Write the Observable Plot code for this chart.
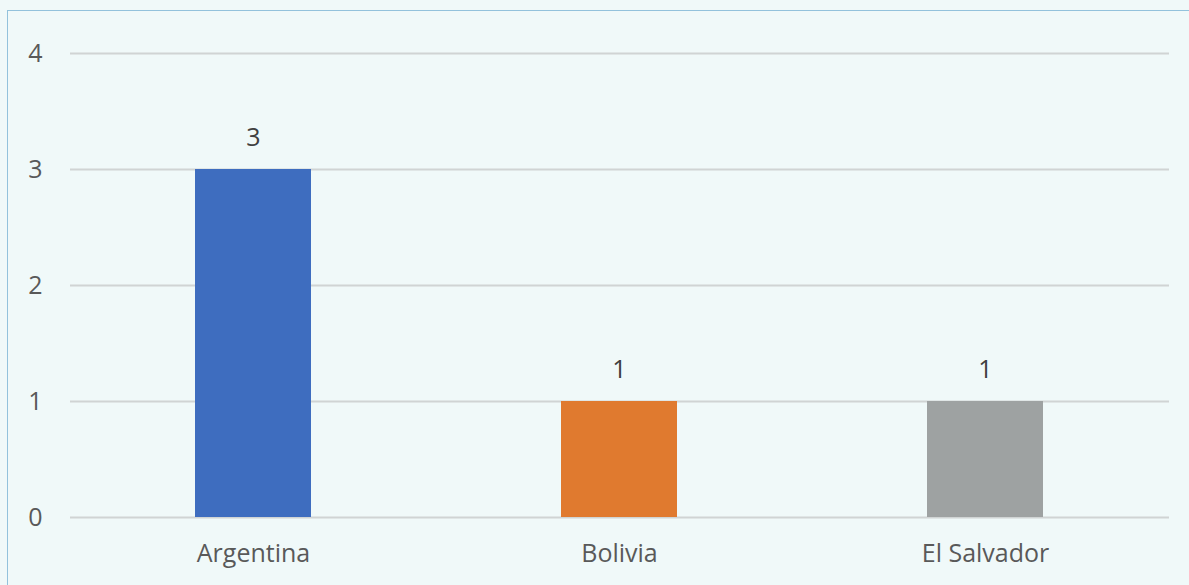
<!DOCTYPE html>
<html>
<head>
<meta charset="utf-8">
<script src="https://cdn.jsdelivr.net/npm/d3@7"></script>
<script src="https://cdn.jsdelivr.net/npm/@observablehq/plot@0.6"></script>
<style>
  html, body { margin: 0; padding: 0; background: #f0f9f9; }
  #wrap { position: relative; width: 1189px; height: 585px; overflow: hidden; background: #f0f9f9; }
  #frame { position: absolute; left: 7px; top: 10px; width: 1200px; height: 600px;
           border-left: 1.5px solid #93c2dc; border-top: 1.5px solid #93c2dc; pointer-events: none; }
</style>
</head>
<body>
<div id="wrap"><div id="frame"></div></div>
<script>
const categories = ["Argentina", "Bolivia", "El Salvador"];
const values = [3, 1, 1];
const colors = ["#3e6dbf", "#e07a2f", "#9ea2a2"];
const yTicks = [0, 1, 2, 3, 4];

const data = categories.map((c, i) => ({category: c, value: values[i], color: colors[i]}));
const pad = 0.683;
const FS = 25;

const chart = Plot.plot({
  width: 1189,
  height: 585,
  marginLeft: 70,
  marginRight: 20,
  marginTop: 53,
  marginBottom: 68,
  style: {background: "transparent", fontFamily: "'Open Sans', sans-serif", fontSize: FS + "px", color: "#595959"},
  x: {domain: categories, paddingInner: pad, paddingOuter: pad / 2, label: null},
  y: {domain: [0, 4], label: null},
  marks: [
    Plot.ruleY(yTicks, {stroke: "#d0d4d4", strokeWidth: 2}),
    Plot.barY(data, {x: "category", y: "value", fill: "color"}),
    Plot.text(data, {x: "category", y: "value", text: d => String(d.value), dy: -32, fill: "#404040", fontSize: FS}),
    Plot.axisY(yTicks, {tickSize: 0, tickPadding: 28, tickFormat: "d", fill: "#595959", fontSize: FS, label: null}),
    Plot.axisX(categories, {tickSize: 0, tickPadding: 27, fill: "#595959", fontSize: FS, label: null})
  ]
});
document.getElementById("wrap").insertBefore(chart, document.getElementById("frame"));
</script>
</body>
</html>
